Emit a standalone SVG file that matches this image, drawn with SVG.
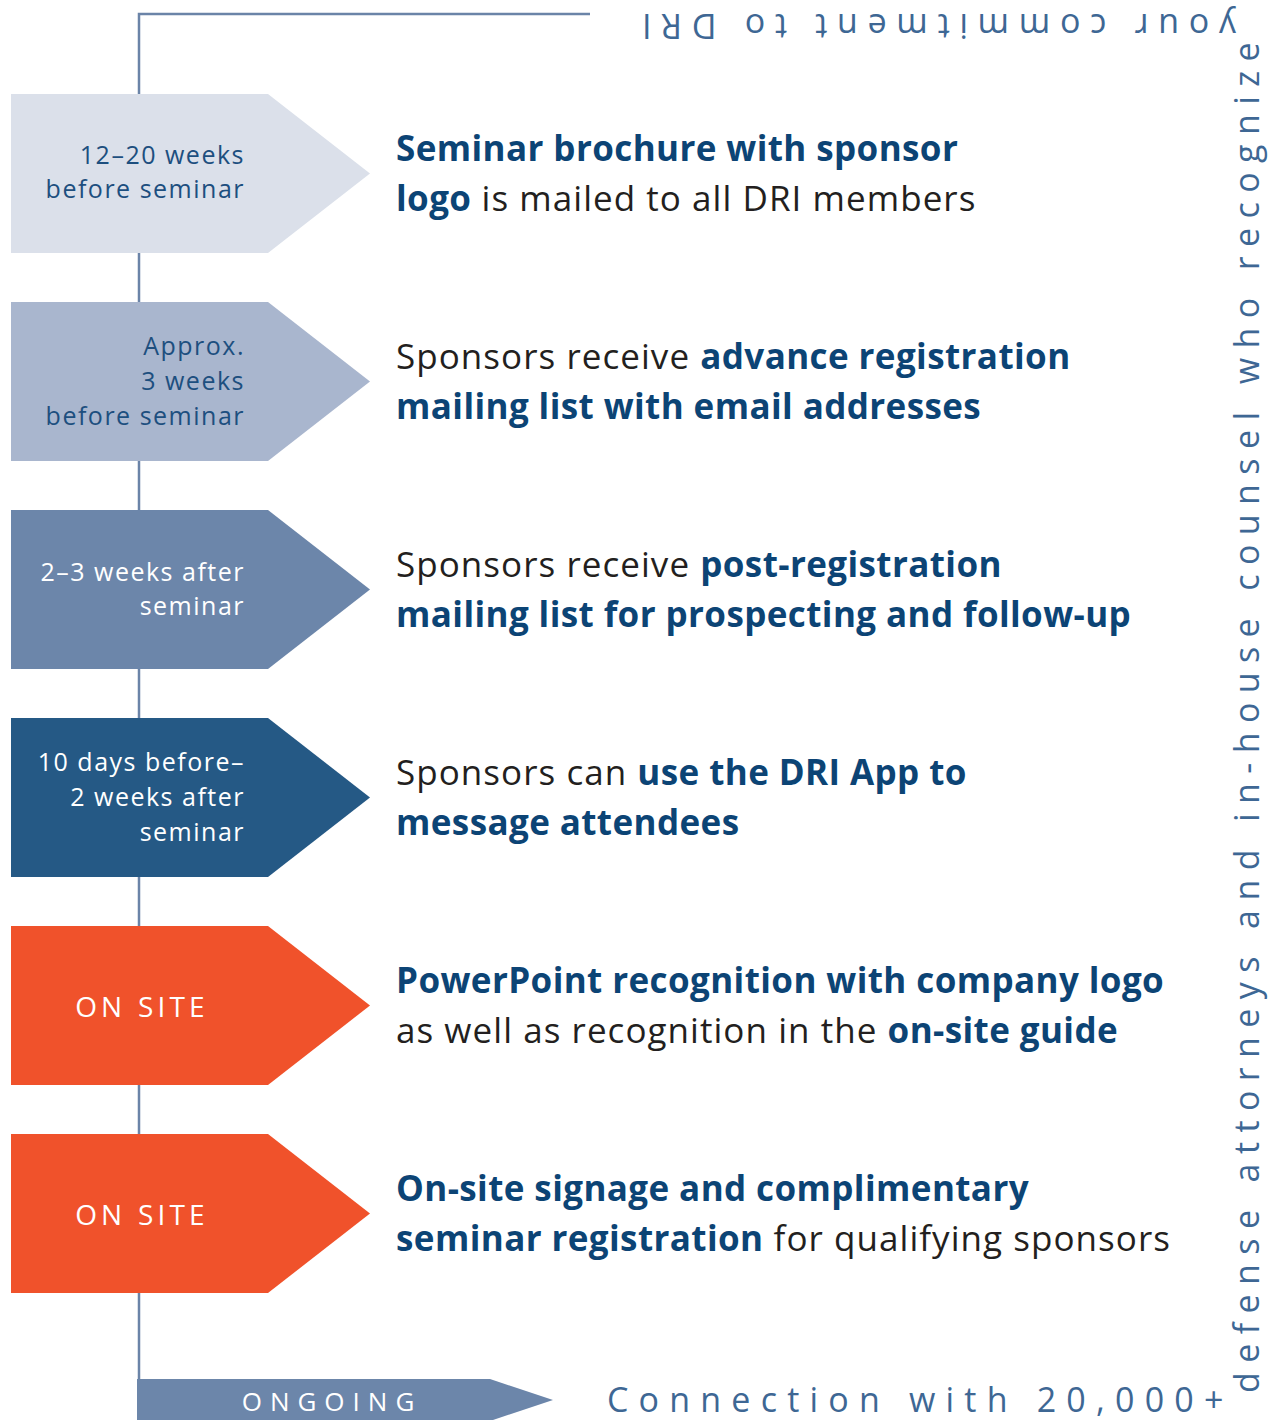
<svg xmlns="http://www.w3.org/2000/svg" width="1275" height="1420" viewBox="0 0 1275 1420">
<style>
.lbl{font-family:"Open Sans","Liberation Sans",sans-serif;font-size:25px;text-anchor:end;letter-spacing:1.5px}
.navy{fill:#1d4f7f}
.white{fill:#ffffff}
.onsite{font-family:"Open Sans","Liberation Sans",sans-serif;font-size:28px;fill:#ffffff;text-anchor:middle;letter-spacing:4.2px}
.main{font-family:"Open Sans","Liberation Sans",sans-serif;font-size:35px;fill:#231f20;letter-spacing:1.05px}
.b{font-weight:700;fill:#0c4475;letter-spacing:0.4px}
.wrap{font-family:"Open Sans","Liberation Sans",sans-serif;font-size:34px;fill:#3e6794}
.line{stroke:#6b84a8;stroke-width:2.5;fill:none}
</style>
<g id="connectors">
<path class="line" d="M590 14 H139 V1380"/>
</g>
<g id="node1">
<polygon points="11,94 268,94 370,173.5 268,253 11,253" fill="#dbe0ea"/>
<text class="lbl navy"><tspan x="245" y="164">12–20 weeks</tspan><tspan x="245" y="198">before seminar</tspan></text>
<text class="main"><tspan x="396" y="161" class="b">Seminar brochure with sponsor</tspan><tspan x="396" y="211" class="b">logo</tspan><tspan> is mailed to all DRI members</tspan></text>
</g>
<g id="node2">
<polygon points="11,302 268,302 370,381.5 268,461 11,461" fill="#a9b6ce"/>
<text class="lbl navy"><tspan x="245" y="355">Approx.</tspan><tspan x="245" y="390">3 weeks</tspan><tspan x="245" y="425">before seminar</tspan></text>
<text class="main"><tspan x="396" y="369">Sponsors receive </tspan><tspan class="b">advance registration</tspan><tspan x="396" y="419" class="b">mailing list with email addresses</tspan></text>
</g>
<g id="node3">
<polygon points="11,510 268,510 370,589.5 268,669 11,669" fill="#6c86aa"/>
<text class="lbl white"><tspan x="245" y="581">2–3 weeks after</tspan><tspan x="245" y="615">seminar</tspan></text>
<text class="main"><tspan x="396" y="577">Sponsors receive </tspan><tspan class="b">post-registration</tspan><tspan x="396" y="627" class="b">mailing list for prospecting and follow-up</tspan></text>
</g>
<g id="node4">
<polygon points="11,718 268,718 370,797.5 268,877 11,877" fill="#255985"/>
<text class="lbl white"><tspan x="245" y="771">10 days before–</tspan><tspan x="245" y="806">2 weeks after</tspan><tspan x="245" y="841">seminar</tspan></text>
<text class="main"><tspan x="396" y="785">Sponsors can </tspan><tspan class="b">use the DRI App to</tspan><tspan x="396" y="835" class="b">message attendees</tspan></text>
</g>
<g id="node5">
<polygon points="11,926 268,926 370,1005.5 268,1085 11,1085" fill="#f0522b"/>
<text class="onsite" x="142" y="1017">ON SITE</text>
<text class="main"><tspan x="396" y="993" class="b">PowerPoint recognition with company logo</tspan><tspan x="396" y="1043">as well as recognition in the </tspan><tspan class="b">on-site guide</tspan></text>
</g>
<g id="node6">
<polygon points="11,1134 268,1134 370,1213.5 268,1293 11,1293" fill="#f0522b"/>
<text class="onsite" x="142" y="1225">ON SITE</text>
<text class="main"><tspan x="396" y="1201" class="b">On-site signage and complimentary</tspan><tspan x="396" y="1251" class="b">seminar registration</tspan><tspan> for qualifying sponsors</tspan></text>
</g>
<g id="ongoing">
<polygon points="137,1379 490,1379 553,1400 490,1421 137,1421" fill="#6c86aa"/>
<text x="332" y="1411" font-family="Open Sans, Liberation Sans, sans-serif" font-size="26" fill="#ffffff" text-anchor="middle" letter-spacing="8">ONGOING</text>
</g>
<g id="wrap-text">
<text class="wrap" x="607" y="1412" letter-spacing="10.2">Connection with 20,000+</text>
<text class="wrap" transform="translate(1259,1393) rotate(-90)" letter-spacing="9.4">defense attorneys and in-house counsel who recognize</text>
<text class="wrap" transform="translate(1236,14) rotate(180)" letter-spacing="9.7">your commitment to DRI</text>
</g>
</svg>
